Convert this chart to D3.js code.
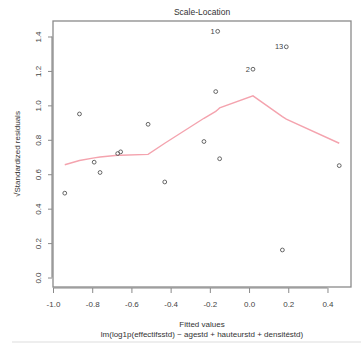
<!DOCTYPE html>
<html><head><meta charset="utf-8">
<script src="https://cdn.jsdelivr.net/npm/d3@7"></script>
<style>body{margin:0;background:#fff}svg{display:block}text{font-family:"Liberation Sans",Arial,sans-serif}</style>
</head><body><svg id="c" width="361" height="346"></svg>
<script>
const fittedX = [-0.94,-0.865,-0.79,-0.76,-0.67,-0.655,-0.515,-0.43,-0.23,-0.17,-0.16,-0.15,0.02,0.17,0.19,0.46];
const sqrtStdRes = [0.49,0.95,0.67,0.61,0.72,0.73,0.89,0.555,0.79,1.08,1.43,0.69,1.21,0.16,1.34,0.65];
const pointLabels = ["","","","","","","","","","","1","","2","","13",""];
const smoothY = [0.655,0.68,0.695,0.70,0.71,0.71,0.715,0.78,0.925,0.965,0.975,0.985,1.055,0.935,0.92,0.78];
const xTicks = [-1.0,-0.8,-0.6,-0.4,-0.2,0.0,0.2,0.4];
const yTicks = [0.0,0.2,0.4,0.6,0.8,1.0,1.2,1.4];
const titleText = "Scale-Location";
const xLabel = "Fitted values";
const subLabel = "lm(log1p(effectifsstd) ~ agestd + hauteurstd + densitéstd)";
const yLabel = "\u221AStandardized residuals";

const svg = d3.select("#c");
const L=53,R=351,T=21,B=287;
const x = d3.scaleLinear().domain([-1.0,0.52]).range([L,R]);
const y = d3.scaleLinear().domain([-0.055,1.49]).range([B,T]);
const axCol="#8a8a8a", txtCol="#444";

// box
svg.append("rect").attr("x",L).attr("y",T).attr("width",R-L).attr("height",B-T)
  .attr("fill","none").attr("stroke",axCol).attr("stroke-width",1.3);

// x axis
const xa = svg.append("g").attr("transform",`translate(0,${B+1})`)
  .call(d3.axisBottom(x).tickValues(xTicks).tickFormat(d3.format(".1f")).tickSize(5).tickPadding(8));
xa.select(".domain").attr("d",`M${x(-1.0)},0H${x(0.4)}`).attr("stroke",axCol).attr("stroke-width",1.2);
xa.selectAll(".tick line").attr("stroke",axCol);
xa.selectAll("text").attr("fill",txtCol).style("font-size","8px").text(d=>d3.format(".1f")(d).replace("−","-"));

// y axis
const ya = svg.append("g").attr("transform",`translate(${L-1},0)`)
  .call(d3.axisLeft(y).tickValues(yTicks).tickSize(4).tickFormat(d3.format(".1f")));
ya.select(".domain").attr("d",`M0,${y(0)}V${y(1.4)}`).attr("stroke",axCol).attr("stroke-width",1.2);
ya.selectAll(".tick line").attr("stroke",axCol);
ya.selectAll("text").attr("fill",txtCol).style("font-size","8px")
  .attr("x",0).attr("dy",null).attr("text-anchor","middle")
  .attr("transform","translate(-14,0) rotate(-90)").attr("dominant-baseline","central");

// smooth line
svg.append("path").datum(fittedX.map((v,i)=>[v,smoothY[i]]))
  .attr("d",d3.line().x(d=>x(d[0])).y(d=>y(d[1])))
  .attr("fill","none").attr("stroke","#f4a3ae").attr("stroke-width",1.4);

// points
svg.append("g").selectAll("circle").data(fittedX.map((v,i)=>[v,sqrtStdRes[i]]))
  .join("circle").attr("cx",d=>x(d[0])).attr("cy",d=>y(d[1])).attr("r",1.9)
  .attr("fill","none").attr("stroke","#555").attr("stroke-width",0.9);

// point labels
svg.append("g").selectAll("text").data(fittedX.map((v,i)=>[v,sqrtStdRes[i],pointLabels[i]]).filter(d=>d[2]))
  .join("text").attr("x",d=>x(d[0])-3).attr("y",d=>y(d[1])).attr("text-anchor","end")
  .attr("dominant-baseline","central").attr("fill",txtCol).style("font-size","7.5px").text(d=>d[2]);

// titles
svg.append("text").attr("x",(L+R)/2).attr("y",15).attr("text-anchor","middle").attr("fill","#333").style("font-size","8.5px").text(titleText);
svg.append("text").attr("x",(L+R)/2).attr("y",327).attr("text-anchor","middle").attr("fill","#333").style("font-size","8px").text(xLabel);
svg.append("text").attr("x",(L+R)/2).attr("y",337).attr("text-anchor","middle").attr("fill","#333").style("font-size","8px").text(subLabel);
svg.append("text").attr("transform",`translate(20,${(T+B)/2}) rotate(-90)`).attr("text-anchor","middle").attr("fill","#333").style("font-size","8px").text(yLabel);

svg.append("line").attr("x1",12).attr("x2",361).attr("y1",342).attr("y2",342).attr("stroke","#ddd").attr("stroke-width",1);
</script></body></html>
